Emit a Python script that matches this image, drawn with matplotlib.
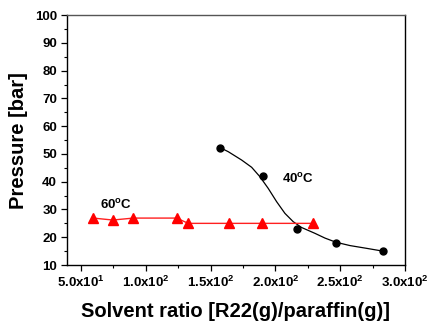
import matplotlib
matplotlib.use("Agg")
import matplotlib.pyplot as plt
from matplotlib.ticker import MultipleLocator, FixedLocator

# 60 C series (red triangles)
x60 = [59.5, 74.5, 90.4, 123.8, 132.8, 164.4, 189.9, 228.8]
p60 = [26.9, 26.2, 26.9, 26.9, 25.0, 25.0, 25.0, 25.0]

# 40 C series (black circles)
x40 = [157.5, 190.7, 216.9, 246.8, 282.8]
p40 = [52.0, 42.0, 22.9, 18.0, 15.0]

# fitted curve for 40 C
fit_x = [157.3, 163.7, 174.0, 181.7, 188.1, 194.5, 201.0, 207.4, 213.8,
         220.3, 230.6, 238.3, 246.8, 257.6, 270.5, 283.0]
fit_p = [52.3, 50.8, 47.8, 45.2, 41.8, 37.6, 32.8, 28.6, 25.6,
         23.5, 21.4, 19.7, 18.2, 17.0, 16.0, 15.0]

xticks = [50, 100, 150, 200, 250, 300]
xtick_labels = ["5.0x10$^{1}$", "1.0x10$^{2}$", "1.5x10$^{2}$",
                "2.0x10$^{2}$", "2.5x10$^{2}$", "3.0x10$^{2}$"]

plt.rcParams["font.family"] = ["Liberation Sans", "DejaVu Sans"]
plt.rcParams["font.weight"] = "bold"
plt.rcParams["mathtext.default"] = "regular"

fig = plt.figure(figsize=(4.28, 3.22), dpi=100)
ax = fig.add_axes([0.156, 0.177, 0.79, 0.776])

ax.plot(x60, p60, color="#ff2020", linewidth=1.0, marker="^",
        markersize=6.5, markerfacecolor="red", markeredgecolor="red", zorder=3)
ax.plot(fit_x, fit_p, color="black", linewidth=0.9, zorder=2)
ax.plot(x40, p40, linestyle="none", marker="o", markersize=5,
        color="black", zorder=4)

ax.text(64.7, 31.6, "60$^{o}$C", fontsize=9.5, fontweight="bold",
        ha="left", va="center")
ax.text(204.9, 41.0, "40$^{o}$C", fontsize=9.5, fontweight="bold",
        ha="left", va="center")

ax.set_xlim(39, 300)
ax.set_ylim(10, 100)
ax.xaxis.set_major_locator(FixedLocator(xticks))
ax.set_xticklabels(xtick_labels)
ax.xaxis.set_minor_locator(FixedLocator([75, 125, 175, 225, 275]))
ax.yaxis.set_major_locator(MultipleLocator(10))
ax.yaxis.set_minor_locator(MultipleLocator(5))

ax.tick_params(which="major", direction="out", length=4, width=0.9,
               labelsize=9.5, pad=3)
ax.tick_params(which="minor", direction="out", length=2.5, width=0.8)
for lab in ax.get_xticklabels() + ax.get_yticklabels():
    lab.set_fontweight("bold")

for side in ["left", "bottom", "right"]:
    ax.spines[side].set_linewidth(1.0)
    ax.spines[side].set_color("black")
ax.spines["top"].set_linewidth(1.0)
ax.spines["top"].set_color("#555555")

ax.set_xlabel("Solvent ratio [R22(g)/paraffin(g)]", fontsize=14.5,
              fontweight="bold", labelpad=9)
ax.set_ylabel("Pressure [bar]", fontsize=14.5, fontweight="bold", labelpad=5)

fig.savefig("out.png", dpi=100)
